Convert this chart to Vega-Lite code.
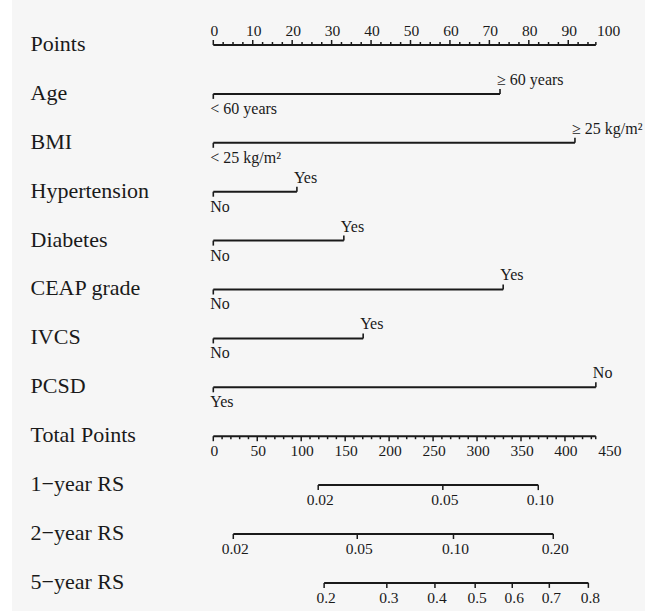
{
  "$schema": "https://vega.github.io/schema/vega-lite/v6.json",
  "width": 633,
  "height": 611,
  "autosize": {"type": "none"},
  "padding": {"left": 12, "top": 0, "right": 0, "bottom": 0},
  "background": "#ffffff",
  "config": {
    "view": {"fill": "#f6f6f6", "stroke": null},
    "text": {"font": "Liberation Serif", "fontSize": 15.5, "color": "#1a1a1a"},
    "rule": {"color": "#1a1a1a"}
  },
  "datasets": {
    "segs": [
      {"row": "Points", "x1": 0, "x2": 97},
      {"row": "Age", "x1": 0, "x2": 72.7},
      {"row": "BMI", "x1": 0, "x2": 91.7},
      {"row": "Hypertension", "x1": 0, "x2": 21.2},
      {"row": "Diabetes", "x1": 0, "x2": 33.1},
      {"row": "CEAP grade", "x1": 0, "x2": 73.5},
      {"row": "IVCS", "x1": 0, "x2": 38.0},
      {"row": "PCSD", "x1": 0, "x2": 97.0},
      {"row": "1−year RS", "x1": 26.6, "x2": 82.4},
      {"row": "2−year RS", "x1": 5.07, "x2": 86.2},
      {"row": "5−year RS", "x1": 28.1, "x2": 95.1}
    ],
    "levels": [
      {"row": "Age", "x": 0, "text": "< 60 years", "side": "below"},
      {"row": "Age", "x": 72.7, "text": "≥ 60 years", "side": "above"},
      {"row": "BMI", "x": 0, "text": "< 25 kg/m²", "side": "below"},
      {"row": "BMI", "x": 91.7, "text": "≥ 25 kg/m²", "side": "above"},
      {"row": "Hypertension", "x": 0, "text": "No", "side": "below"},
      {"row": "Hypertension", "x": 21.2, "text": "Yes", "side": "above"},
      {"row": "Diabetes", "x": 0, "text": "No", "side": "below"},
      {"row": "Diabetes", "x": 33.1, "text": "Yes", "side": "above"},
      {"row": "CEAP grade", "x": 0, "text": "No", "side": "below"},
      {"row": "CEAP grade", "x": 73.5, "text": "Yes", "side": "above"},
      {"row": "IVCS", "x": 0, "text": "No", "side": "below"},
      {"row": "IVCS", "x": 38.0, "text": "Yes", "side": "above"},
      {"row": "PCSD", "x": 0, "text": "Yes", "side": "below"},
      {"row": "PCSD", "x": 97.0, "text": "No", "side": "above"}
    ],
    "pticks": [
      {"row": "Points", "x": 0, "label": "0", "kind": "major"},
      {"row": "Points", "x": 10, "label": "10", "kind": "major"},
      {"row": "Points", "x": 20, "label": "20", "kind": "major"},
      {"row": "Points", "x": 30, "label": "30", "kind": "major"},
      {"row": "Points", "x": 40, "label": "40", "kind": "major"},
      {"row": "Points", "x": 50, "label": "50", "kind": "major"},
      {"row": "Points", "x": 60, "label": "60", "kind": "major"},
      {"row": "Points", "x": 70, "label": "70", "kind": "major"},
      {"row": "Points", "x": 80, "label": "80", "kind": "major"},
      {"row": "Points", "x": 90, "label": "90", "kind": "major"},
      {"row": "Points", "x": 100, "label": "100", "kind": "none"},
      {"row": "Points", "x": 2.5, "kind": "minor"},
      {"row": "Points", "x": 5, "kind": "minor"},
      {"row": "Points", "x": 7.5, "kind": "minor"},
      {"row": "Points", "x": 12.5, "kind": "minor"},
      {"row": "Points", "x": 15, "kind": "minor"},
      {"row": "Points", "x": 17.5, "kind": "minor"},
      {"row": "Points", "x": 22.5, "kind": "minor"},
      {"row": "Points", "x": 25, "kind": "minor"},
      {"row": "Points", "x": 27.5, "kind": "minor"},
      {"row": "Points", "x": 32.5, "kind": "minor"},
      {"row": "Points", "x": 35, "kind": "minor"},
      {"row": "Points", "x": 37.5, "kind": "minor"},
      {"row": "Points", "x": 42.5, "kind": "minor"},
      {"row": "Points", "x": 45, "kind": "minor"},
      {"row": "Points", "x": 47.5, "kind": "minor"},
      {"row": "Points", "x": 52.5, "kind": "minor"},
      {"row": "Points", "x": 55, "kind": "minor"},
      {"row": "Points", "x": 57.5, "kind": "minor"},
      {"row": "Points", "x": 62.5, "kind": "minor"},
      {"row": "Points", "x": 65, "kind": "minor"},
      {"row": "Points", "x": 67.5, "kind": "minor"},
      {"row": "Points", "x": 72.5, "kind": "minor"},
      {"row": "Points", "x": 75, "kind": "minor"},
      {"row": "Points", "x": 77.5, "kind": "minor"},
      {"row": "Points", "x": 82.5, "kind": "minor"},
      {"row": "Points", "x": 85, "kind": "minor"},
      {"row": "Points", "x": 87.5, "kind": "minor"},
      {"row": "Points", "x": 92.5, "kind": "minor"},
      {"row": "Points", "x": 95, "kind": "minor"},
      {"row": "Points", "x": 97, "kind": "minor"}
    ],
    "rticks": [
      {"row": "1−year RS", "x": 26.6, "label": "0.02"},
      {"row": "1−year RS", "x": 58.2, "label": "0.05"},
      {"row": "1−year RS", "x": 82.4, "label": "0.10"},
      {"row": "2−year RS", "x": 5.07, "label": "0.02"},
      {"row": "2−year RS", "x": 36.5, "label": "0.05"},
      {"row": "2−year RS", "x": 60.9, "label": "0.10"},
      {"row": "2−year RS", "x": 86.2, "label": "0.20"},
      {"row": "5−year RS", "x": 28.1, "label": "0.2"},
      {"row": "5−year RS", "x": 44.0, "label": "0.3"},
      {"row": "5−year RS", "x": 56.2, "label": "0.4"},
      {"row": "5−year RS", "x": 66.4, "label": "0.5"},
      {"row": "5−year RS", "x": 75.8, "label": "0.6"},
      {"row": "5−year RS", "x": 85.2, "label": "0.7"},
      {"row": "5−year RS", "x": 95.1, "label": "0.8"}
    ],
    "tseg": [{"row": "Total Points", "t1": 0, "t2": 435}],
    "tticks": [
      {"row": "Total Points", "t": 0, "label": "0", "kind": "major"},
      {"row": "Total Points", "t": 50, "label": "50", "kind": "major"},
      {"row": "Total Points", "t": 100, "label": "100", "kind": "major"},
      {"row": "Total Points", "t": 150, "label": "150", "kind": "major"},
      {"row": "Total Points", "t": 200, "label": "200", "kind": "major"},
      {"row": "Total Points", "t": 250, "label": "250", "kind": "major"},
      {"row": "Total Points", "t": 300, "label": "300", "kind": "major"},
      {"row": "Total Points", "t": 350, "label": "350", "kind": "major"},
      {"row": "Total Points", "t": 400, "label": "400", "kind": "major"},
      {"row": "Total Points", "t": 450, "label": "450", "kind": "none"},
      {"row": "Total Points", "t": 10, "kind": "minor"},
      {"row": "Total Points", "t": 20, "kind": "minor"},
      {"row": "Total Points", "t": 30, "kind": "minor"},
      {"row": "Total Points", "t": 40, "kind": "minor"},
      {"row": "Total Points", "t": 60, "kind": "minor"},
      {"row": "Total Points", "t": 70, "kind": "minor"},
      {"row": "Total Points", "t": 80, "kind": "minor"},
      {"row": "Total Points", "t": 90, "kind": "minor"},
      {"row": "Total Points", "t": 110, "kind": "minor"},
      {"row": "Total Points", "t": 120, "kind": "minor"},
      {"row": "Total Points", "t": 130, "kind": "minor"},
      {"row": "Total Points", "t": 140, "kind": "minor"},
      {"row": "Total Points", "t": 160, "kind": "minor"},
      {"row": "Total Points", "t": 170, "kind": "minor"},
      {"row": "Total Points", "t": 180, "kind": "minor"},
      {"row": "Total Points", "t": 190, "kind": "minor"},
      {"row": "Total Points", "t": 210, "kind": "minor"},
      {"row": "Total Points", "t": 220, "kind": "minor"},
      {"row": "Total Points", "t": 230, "kind": "minor"},
      {"row": "Total Points", "t": 240, "kind": "minor"},
      {"row": "Total Points", "t": 260, "kind": "minor"},
      {"row": "Total Points", "t": 270, "kind": "minor"},
      {"row": "Total Points", "t": 280, "kind": "minor"},
      {"row": "Total Points", "t": 290, "kind": "minor"},
      {"row": "Total Points", "t": 310, "kind": "minor"},
      {"row": "Total Points", "t": 320, "kind": "minor"},
      {"row": "Total Points", "t": 330, "kind": "minor"},
      {"row": "Total Points", "t": 340, "kind": "minor"},
      {"row": "Total Points", "t": 360, "kind": "minor"},
      {"row": "Total Points", "t": 370, "kind": "minor"},
      {"row": "Total Points", "t": 380, "kind": "minor"},
      {"row": "Total Points", "t": 390, "kind": "minor"},
      {"row": "Total Points", "t": 410, "kind": "minor"},
      {"row": "Total Points", "t": 420, "kind": "minor"},
      {"row": "Total Points", "t": 430, "kind": "minor"},
      {"row": "Total Points", "t": 435, "kind": "minor"}
    ]
  },
  "encoding": {
    "y": {
      "field": "row",
      "type": "ordinal",
      "scale": {
        "type": "point",
        "domain": ["Points", "Age", "BMI", "Hypertension", "Diabetes", "CEAP grade", "IVCS", "PCSD", "Total Points", "1−year RS", "2−year RS", "5−year RS"],
        "padding": 0.7474,
        "align": 0.6156
      },
      "axis": {
        "title": null,
        "orient": "left",
        "domain": false,
        "ticks": false,
        "grid": false,
        "labelAlign": "left",
        "labelBaseline": "alphabetic",
        "labelOffset": 5.5,
        "labelPadding": -18,
        "labelFont": "Liberation Serif",
        "labelFontSize": 22,
        "labelColor": "#1a1a1a",
        "labelLimit": 400
      }
    }
  },
  "layer": [
    {
      "encoding": {
        "x": {"type": "quantitative", "scale": {"domain": [-51.04, 109.46], "nice": false, "zero": false}, "axis": null}
      },
      "layer": [
        {
          "data": {"name": "segs"},
          "mark": {"type": "rule", "strokeWidth": 2},
          "encoding": {
            "x": {"field": "x1", "type": "quantitative"},
            "x2": {"field": "x2"}
          }
        },
        {
          "data": {"name": "levels"},
          "transform": [{"filter": "datum.side == 'above'"}],
          "mark": {"type": "rule", "strokeWidth": 1.6, "y2Offset": -5},
          "encoding": {
            "x": {"field": "x", "type": "quantitative"},
            "y2": {"field": "row"}
          }
        },
        {
          "data": {"name": "levels"},
          "transform": [{"filter": "datum.side == 'below'"}],
          "mark": {"type": "rule", "strokeWidth": 1.6, "y2Offset": 5},
          "encoding": {
            "x": {"field": "x", "type": "quantitative"},
            "y2": {"field": "row"}
          }
        },
        {
          "data": {"name": "levels"},
          "transform": [{"filter": "datum.side == 'above'"}],
          "mark": {"type": "text", "align": "left", "baseline": "middle", "dx": -3, "dy": -14, "fontSize": 16},
          "encoding": {
            "x": {"field": "x", "type": "quantitative"},
            "text": {"field": "text"}
          }
        },
        {
          "data": {"name": "levels"},
          "transform": [{"filter": "datum.side == 'below'"}],
          "mark": {"type": "text", "align": "left", "baseline": "middle", "dx": -3, "dy": 15, "fontSize": 16},
          "encoding": {
            "x": {"field": "x", "type": "quantitative"},
            "text": {"field": "text"}
          }
        },
        {
          "data": {"name": "pticks"},
          "transform": [{"filter": "datum.kind == 'major'"}],
          "mark": {"type": "rule", "strokeWidth": 1.5, "y2Offset": -5},
          "encoding": {
            "x": {"field": "x", "type": "quantitative"},
            "y2": {"field": "row"}
          }
        },
        {
          "data": {"name": "pticks"},
          "transform": [{"filter": "datum.kind == 'minor'"}],
          "mark": {"type": "rule", "strokeWidth": 1.5, "y2Offset": -3},
          "encoding": {
            "x": {"field": "x", "type": "quantitative"},
            "y2": {"field": "row"}
          }
        },
        {
          "data": {"name": "pticks"},
          "transform": [{"filter": "datum.kind != 'minor'"}],
          "mark": {"type": "text", "align": "center", "baseline": "middle", "dx": 1, "dy": -14},
          "encoding": {
            "x": {"field": "x", "type": "quantitative"},
            "text": {"field": "label"}
          }
        },
        {
          "data": {"name": "rticks"},
          "mark": {"type": "rule", "strokeWidth": 1.5, "y2Offset": 5},
          "encoding": {
            "x": {"field": "x", "type": "quantitative"},
            "y2": {"field": "row"}
          }
        },
        {
          "data": {"name": "rticks"},
          "mark": {"type": "text", "align": "center", "baseline": "middle", "dx": 2, "dy": 15},
          "encoding": {
            "x": {"field": "x", "type": "quantitative"},
            "text": {"field": "label"}
          }
        }
      ]
    },
    {
      "encoding": {
        "x": {"type": "quantitative", "scale": {"domain": [-228.97, 491.04], "nice": false, "zero": false}, "axis": null}
      },
      "layer": [
        {
          "data": {"name": "tseg"},
          "mark": {"type": "rule", "strokeWidth": 2},
          "encoding": {
            "x": {"field": "t1", "type": "quantitative"},
            "x2": {"field": "t2"}
          }
        },
        {
          "data": {"name": "tticks"},
          "transform": [{"filter": "datum.kind == 'major'"}],
          "mark": {"type": "rule", "strokeWidth": 1.5, "y2Offset": 5},
          "encoding": {
            "x": {"field": "t", "type": "quantitative"},
            "y2": {"field": "row"}
          }
        },
        {
          "data": {"name": "tticks"},
          "transform": [{"filter": "datum.kind == 'minor'"}],
          "mark": {"type": "rule", "strokeWidth": 1.5, "y2Offset": 3},
          "encoding": {
            "x": {"field": "t", "type": "quantitative"},
            "y2": {"field": "row"}
          }
        },
        {
          "data": {"name": "tticks"},
          "transform": [{"filter": "datum.kind != 'minor'"}],
          "mark": {"type": "text", "align": "center", "baseline": "middle", "dx": 1, "dy": 15},
          "encoding": {
            "x": {"field": "t", "type": "quantitative"},
            "text": {"field": "label"}
          }
        }
      ]
    }
  ],
  "resolve": {"scale": {"x": "independent"}}
}
